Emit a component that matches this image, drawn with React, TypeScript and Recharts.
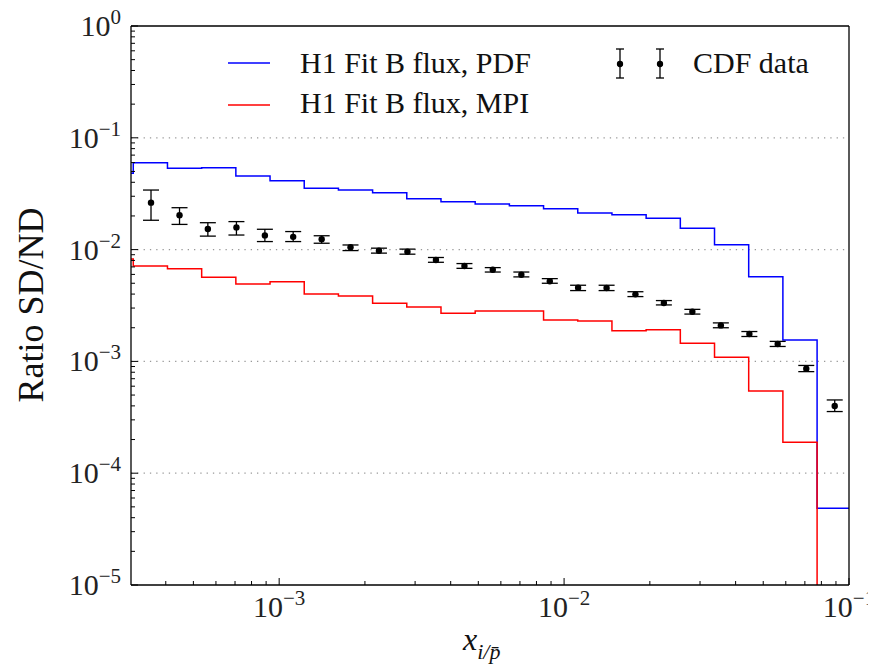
import React from 'react';
import { ComposedChart, Line, Scatter, ErrorBar, XAxis, YAxis, ReferenceLine } from 'recharts';

const FONT = '"Liberation Serif", "DejaVu Serif", serif';

// bin edges (log-spaced, first one just left of the axis)
const binEdges = [
  2.333e-4, 3.076e-4, 4.055e-4, 5.346e-4, 7.047e-4, 9.29e-4, 1.2246e-3, 1.6144e-3,
  2.128e-3, 2.805e-3, 3.698e-3, 4.875e-3, 6.427e-3, 8.472e-3, 1.1169e-2, 1.4723e-2,
  1.9409e-2, 2.5586e-2, 3.373e-2, 4.446e-2, 5.861e-2, 7.727e-2, 0.1019,
];

// H1 Fit B flux, PDF
const pdfValues = [
  0.0481, 0.0599, 0.0534, 0.0541, 0.0455, 0.0413, 0.0353, 0.0341, 0.0323, 0.0285, 0.0268,
  0.0256, 0.0247, 0.0232, 0.0213, 0.0205, 0.01905, 0.0155, 0.01106, 0.00573, 0.001554, 4.85e-5,
];

// H1 Fit B flux, MPI (last bin is empty)
const mpiValues = [
  0.00824, 0.00713, 0.00675, 0.00565, 0.00492, 0.00516, 0.00401, 0.00385, 0.00331, 0.00307,
  0.00269, 0.00282, 0.00282, 0.00235, 0.0023, 0.00188, 0.00192, 0.00145, 0.00109, 0.000543,
  0.000189, 1e-9,
];

// CDF data
const cdfX = [
  3.55e-4, 4.47e-4, 5.62e-4, 7.08e-4, 8.91e-4, 1.12e-3, 1.41e-3, 1.78e-3, 2.24e-3, 2.82e-3,
  3.55e-3, 4.47e-3, 5.62e-3, 7.08e-3, 8.91e-3, 1.12e-2, 1.41e-2, 1.78e-2, 2.24e-2, 2.82e-2,
  3.55e-2, 4.47e-2, 5.62e-2, 7.08e-2, 8.91e-2,
];
const cdfY = [
  0.0263, 0.0203, 0.0153, 0.0158, 0.0134, 0.013, 0.0124, 0.0105, 0.00978, 0.00958,
  0.00807, 0.00713, 0.00661, 0.00596, 0.00521, 0.00456, 0.00453, 0.00398, 0.00333, 0.00278,
  0.0021, 0.00176, 0.00143, 0.00086, 0.000399,
];
const cdfLow = [
  0.0183, 0.0168, 0.0132, 0.0135, 0.0118, 0.0118, 0.0114, 0.0098, 0.0093, 0.0091,
  0.0077, 0.0068, 0.0063, 0.0057, 0.005, 0.0043, 0.0043, 0.0038, 0.0032, 0.00265,
  0.002, 0.00167, 0.00136, 0.00081, 0.000356,
];
const cdfHigh = [
  0.0341, 0.0237, 0.0174, 0.0178, 0.0152, 0.0145, 0.0133, 0.011, 0.0103, 0.0101,
  0.0085, 0.0075, 0.0069, 0.0063, 0.0055, 0.0048, 0.0048, 0.0042, 0.0035, 0.00292,
  0.00221, 0.00185, 0.00151, 0.00092, 0.000452,
];

const xMajor = [1e-4, 1e-3, 1e-2, 1e-1];
const yMajor = [1e-5, 1e-4, 1e-3, 1e-2, 1e-1, 1];
const X_DOMAIN = [3.02e-4, 0.1];
const Y_DOMAIN = [1e-5, 1];

const withMinors = (majors: number[], lo: number, hi: number) => {
  const out: number[] = [];
  majors.forEach((m) => {
    for (let k = 1; k <= 9; k++) {
      const v = m * k;
      if (v >= lo * 0.9999 && v <= hi * 1.0001) out.push(v);
    }
  });
  return out;
};
const xTicks = withMinors(xMajor, X_DOMAIN[0], X_DOMAIN[1]);
const yTicks = withMinors(yMajor, Y_DOMAIN[0], Y_DOMAIN[1]);

const stepData = (vals: number[]) =>
  binEdges.map((x, i) => ({ x, v: vals[Math.min(i, vals.length - 1)] }));

const pdfData = stepData(pdfValues);
const mpiData = stepData(mpiValues);
const cdfData = cdfX.map((x, i) => ({ x, v: cdfY[i], err: [cdfY[i] - cdfLow[i], cdfHigh[i] - cdfY[i]] }));

const expo = (v: number) => Math.round(Math.log10(v));
const isMajor = (v: number) => Math.abs(Math.log10(v) - expo(v)) < 1e-6;
const expLabel = (e: number) => (e < 0 ? '\u2212' + Math.abs(e) : String(e));

const XTick = (props: any) => {
  const { x, y, payload } = props;
  const major = isMajor(payload.value);
  return (
    <g>
      <line x1={x} x2={x} y1={y} y2={y - (major ? 7 : 4)} stroke="#000" strokeWidth={1} />
      {major && (
        <text x={x} y={y + 32} textAnchor="middle" fontFamily={FONT} fontSize={30} fill="#222">
          10
          <tspan dy={-12} fontSize={21}>{expLabel(expo(payload.value))}</tspan>
        </text>
      )}
    </g>
  );
};

const YTick = (props: any) => {
  const { x, y, payload } = props;
  const major = isMajor(payload.value);
  return (
    <g>
      <line x1={x} x2={x + (major ? 7 : 4)} y1={y} y2={y} stroke="#000" strokeWidth={1} />
      {major && (
        <text x={x - 10} y={y + 10} textAnchor="end" fontFamily={FONT} fontSize={30} fill="#222">
          10
          <tspan dy={-12} fontSize={21}>{expLabel(expo(payload.value))}</tspan>
        </text>
      )}
    </g>
  );
};

const Dot = (p: any) => <circle cx={p.cx} cy={p.cy} r={3.2} fill="#000" />;

const Overlay = () => (
  <svg width={876} height={665} style={{ position: 'absolute', left: 0, top: 0, pointerEvents: 'none' }}>
    <g fontFamily={FONT} fill="#111">
      <line x1={228} x2={270} y1={63} y2={63} stroke="#0000ff" strokeWidth={1.5} />
      <text x={300} y={73} fontSize={30}>H1 Fit B flux, PDF</text>
      <line x1={228} x2={270} y1={105} y2={105} stroke="#ff0000" strokeWidth={1.5} />
      <text x={300} y={113} fontSize={30}>H1 Fit B flux, MPI</text>
      {[620, 660].map((cx) => (
        <g key={cx} stroke="#000" strokeWidth={1.3}>
          <line x1={cx} x2={cx} y1={49} y2={78} />
          <line x1={cx - 4} x2={cx + 4} y1={49} y2={49} />
          <line x1={cx - 4} x2={cx + 4} y1={78} y2={78} />
          <circle cx={cx} cy={64} r={2.5} fill="#000" />
        </g>
      ))}
      <text x={693} y={73} fontSize={30}>CDF data</text>
      <text x={43} y={305} fontSize={36} textAnchor="middle" transform="rotate(-90 43 305)">
        Ratio SD/ND
      </text>
      <text x={463} y={650} fontSize={32} fontStyle="italic">
        x
        <tspan dy={9} fontSize={22}>i/p&#x0304;</tspan>
      </text>
    </g>
  </svg>
);

const App: React.FC = () => {
  return (
    <div style={{ position: 'relative', width: 876, height: 665, margin: '-8px 0 0 -8px' }}>
      <ComposedChart width={876} height={665} margin={{ top: 26, right: 27, left: 71, bottom: 40 }}>
        <XAxis
          dataKey="x"
          type="number"
          scale="log"
          domain={X_DOMAIN}
          allowDataOverflow
          ticks={xTicks}
          tick={<XTick />}
          tickSize={0}
          tickMargin={0}
          tickLine={false}
          height={40}
          axisLine={{ stroke: '#000', strokeWidth: 1.3 }}
          interval={0}
        />
        <YAxis
          dataKey="v"
          type="number"
          scale="log"
          domain={Y_DOMAIN}
          allowDataOverflow
          ticks={yTicks}
          tick={<YTick />}
          tickSize={0}
          tickMargin={0}
          tickLine={false}
          width={60}
          axisLine={{ stroke: '#000', strokeWidth: 1.3 }}
          interval={0}
        />
        {yMajor.slice(1, -1).map((v) => (
          <ReferenceLine key={v} y={v} stroke="#999" strokeDasharray="1.3 5" strokeWidth={1.2} />
        ))}
        <Line data={pdfData} dataKey="v" type="stepAfter" stroke="#0000ff" strokeWidth={1.5} dot={false} isAnimationActive={false} />
        <Line data={mpiData} dataKey="v" type="stepAfter" stroke="#ff0000" strokeWidth={1.5} dot={false} isAnimationActive={false} />
        <Scatter data={cdfData} dataKey="v" fill="#000" shape={Dot} isAnimationActive={false}>
          <ErrorBar dataKey="err" direction="y" width={8} stroke="#000" strokeWidth={1.3} isAnimationActive={false} />
        </Scatter>
        <ReferenceLine y={1} stroke="#000" strokeWidth={1.3} />
        <ReferenceLine x={0.1} stroke="#000" strokeWidth={1.3} />
      </ComposedChart>
      <Overlay />
    </div>
  );
};

export default App;
